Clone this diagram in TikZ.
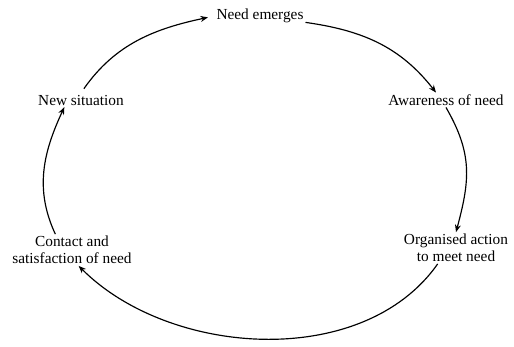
\documentclass[tikz,border=0pt]{standalone}
\usepackage{fontspec}
\setmainfont{Liberation Serif}
\usepackage{tikz}
\usetikzlibrary{arrows.meta, positioning}

\begin{document}
\begin{tikzpicture}[x=0.6pt,y=0.6pt,>={Stealth[length=4.5pt,width=3.6pt]},
        every node/.style={font=\fontsize{9.2}{10.2}\selectfont},
        stage/.style={inner sep=1pt,align=center},
        cycle/.style={line width=0.7pt}]

      \useasboundingbox (0,0) rectangle (514,346);

      \node[stage] (need)    at (260,330) {Need emerges};
      \node[stage] (aware)   at (446,246) {Awareness of need};
      \node[stage] (org)     at (456,98)  {Organised action\\to meet need};
      \node[stage] (contact) at (72,96)   {Contact and\\satisfaction of need};
      \node[stage] (newsit)  at (81,246)  {New situation};

      \path[->,cycle] (newsit.north) edge [out=55,in=192,shorten <=3pt,shorten >=4pt] (need.west)
                (need.-8) edge [out=-8,in=128] ([xshift=-6pt]aware.north)
                (aware.south) edge [out=-60,in=75,looseness=1.1] (org.north)
                ([xshift=-11pt]org.south) edge [out=-125,in=-45,looseness=0.92] ([xshift=4pt]contact.south)
                ([xshift=-10pt]contact.north) edge [out=115,in=245] ([xshift=-10pt]newsit.south);
\end{tikzpicture}
\end{document}
